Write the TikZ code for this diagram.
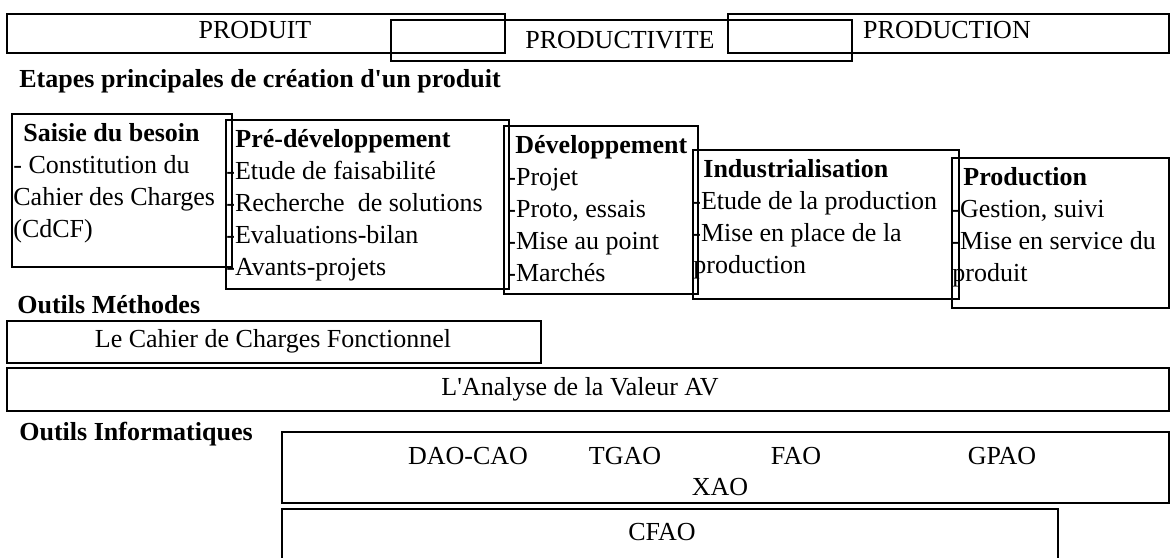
\documentclass[tikz,border=0pt]{standalone}
\usepackage{fontspec}
\setmainfont{Liberation Serif}[Ligatures=TeXOff]
\tikzset{
  cadre/.style={draw, line width=0.8pt, inner sep=0pt, anchor=north west},
  ligne/.style={font=\fontsize{13}{16}\selectfont, inner sep=0pt, anchor=base west},
  titre/.style={ligne, font=\fontsize{13}{16}\selectfont\bfseries},
  declare function={
    interligne=32;
  }
}

\begin{document}
\begin{tikzpicture}[
  x=0.5pt,
  y=-0.5pt
]
\useasboundingbox (0,0) rectangle (1170,557);
\clip (0,0) rectangle (1170,557);

\foreach \n/\x/\y/\w/\h in
                  {produit/6/13/498/39,
                   productivite/390/19/461/41,
                   production/727/13/441/39,
                   saisie/11/113/220/153,
                   predev/225/119/283/169,
                   dev/503/125/194/168,
                   indus/692/149/266/149,
                   prodn/951/157/217/150,
                   cdcf/6/320/534/42,
                   av/6/367/1162/43,
                   xao/281/431/887/71,
                   cfao/281/508/776/70}
  {
   \node [cadre,
          minimum width=\w*0.5pt,
          minimum height=\h*0.5pt,
          name=\n] at (\x,\y) {};
  }

\foreach \n/\x/\y/\t in
                  {produit/255/38/PRODUIT,
                   productivite/620/48/PRODUCTIVITE,
                   production/947/38/PRODUCTION,
                   cdcf/273/347/Le Cahier de Charges Fonctionnel,
                   av/580/395/L'Analyse de la Valeur AV,
                   dao/468/464/DAO-CAO,
                   tgao/625/464/TGAO,
                   fao/796/464/FAO,
                   gpao/1002/464/GPAO,
                   xao/720/495/XAO,
                   cfao/662/540/CFAO}
  {
   \node [ligne, anchor=base, name=\n-t] at (\x,\y) {\t};
  }

\foreach \n/\x/\y/\t in
                  {etapes/19/87/Etapes principales de création d'un produit,
                   methodes/17/313/Outils Méthodes,
                   informatiques/19/440/Outils Informatiques}
  {
   \node [titre, name=\n] at (\x,\y) {\t};
  }

\foreach \n/\i/\dx/\t in
                  {saisie/0/12/\textbf{Saisie du besoin},
                   saisie/1/2/- Constitution du,
                   saisie/2/2/Cahier des Charges,
                   saisie/3/2/(CdCF),
                   predev/0/10/\textbf{Pré-développement},
                   predev/1/1/-Etude de faisabilité,
                   predev/2/1/-Recherche\ \ de solutions,
                   predev/3/1/-Evaluations-bilan,
                   predev/4/1/-Avants-projets,
                   dev/0/12/\textbf{Développement},
                   dev/1/4/-Projet,
                   dev/2/4/{-Proto, essais},
                   dev/3/4/-Mise au point,
                   dev/4/4/-Marchés,
                   indus/0/11/\textbf{Industrialisation},
                   indus/1/0/-Etude de la production,
                   indus/2/0/-Mise en place de la,
                   indus/3/1/production,
                   prodn/0/12/\textbf{Production},
                   prodn/1/0/{-Gestion, suivi},
                   prodn/2/0/-Mise en service du,
                   prodn/3/1/produit}
  {
   \node [ligne, name=\n-\i] at ([shift={(\dx,28+interligne*\i)}]\n.north west) {\t};
  }

\end{tikzpicture}
\end{document}
